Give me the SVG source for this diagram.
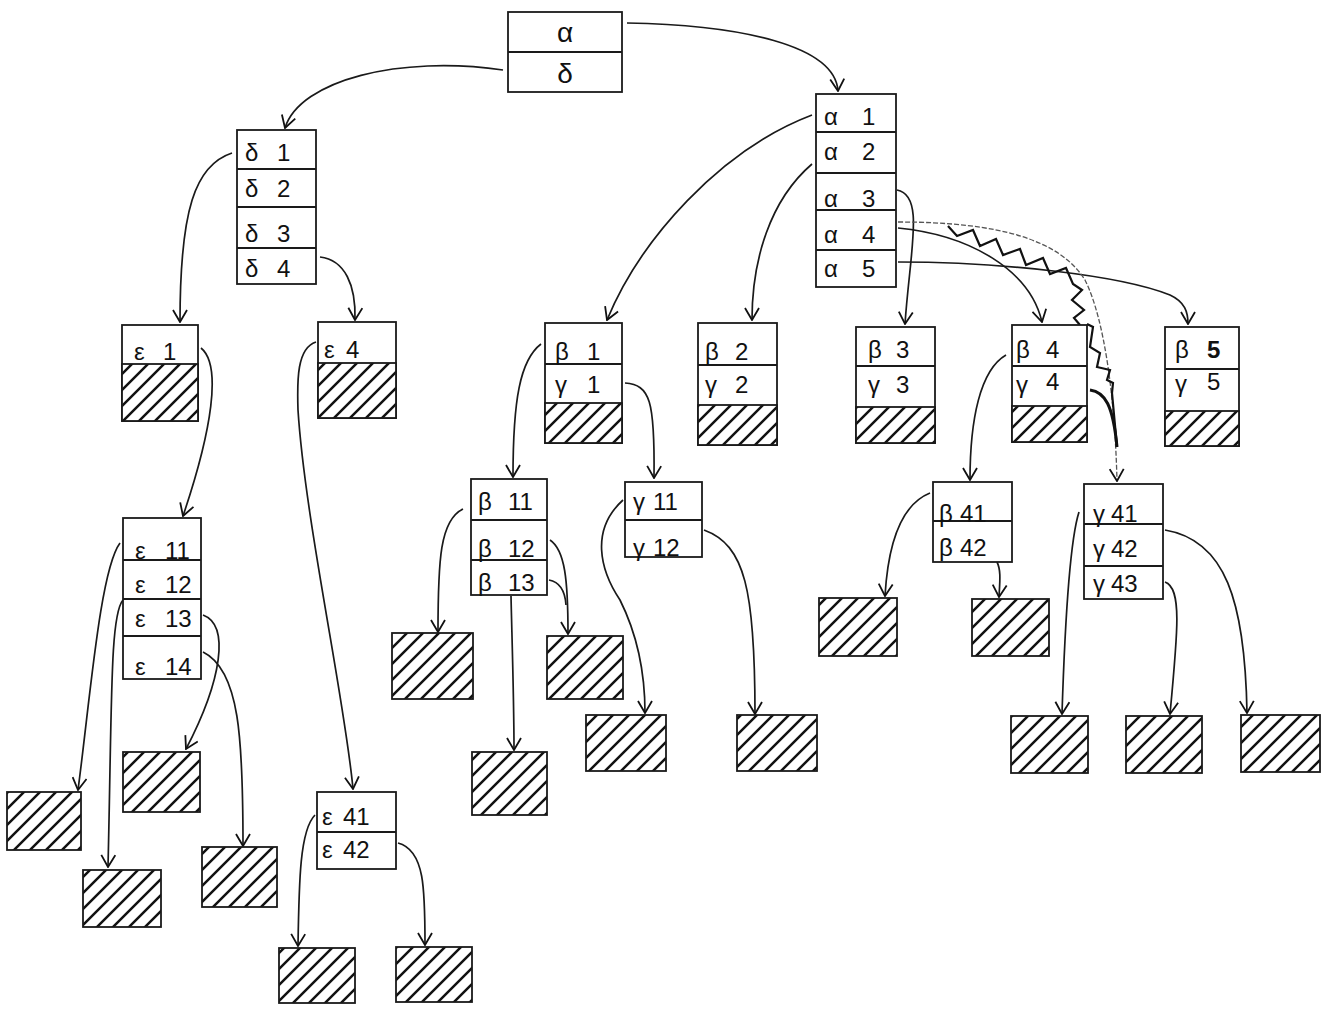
<svg xmlns="http://www.w3.org/2000/svg" width="1324" height="1009" viewBox="0 0 1324 1009">
<defs>
<style>
.box{fill:#fff;stroke:#1a1a1a;stroke-width:1.8}
.h{fill:url(#hatch);stroke:#1a1a1a;stroke-width:1.8}
.dv{stroke:#1a1a1a;stroke-width:1.8}
.lbl{font-family:"Liberation Sans","DejaVu Sans",sans-serif;font-size:24px;fill:#111}
.big{font-size:28px}
.c{fill:none;stroke:#1a1a1a;stroke-width:1.7;marker-end:url(#arr)}
.cf{fill:none;stroke:#555;stroke-width:1.3;stroke-dasharray:5 2;marker-end:url(#arr)}
.zz{fill:none;stroke:#111;stroke-width:2.2;stroke-linejoin:miter}
</style>
<pattern id="hatch" patternUnits="userSpaceOnUse" width="16" height="16">
<rect width="16" height="16" fill="#fff"/>
<path d="M-2,2 L2,-2 M0,16 L16,0 M14,18 L18,14" stroke="#111" stroke-width="2.5"/>
</pattern>
<marker id="arr" viewBox="0 0 14 16" refX="13" refY="8" markerWidth="14" markerHeight="16" orient="auto" markerUnits="userSpaceOnUse">
<path d="M1,1 L13,8 L1,15" fill="none" stroke="#111" stroke-width="1.8"/>
</marker>
</defs>
<rect width="1324" height="1009" fill="#fff"/>

<g id="connectors">
<path class="c" d="M627,23 C740,25 835,45 838,91"/>
<path class="c" d="M503,70 C400,55 300,80 285,128"/>
<path class="c" d="M812,115 C720,150 640,240 607,320"/>
<path class="c" d="M812,164 C770,200 752,260 752,320"/>
<path class="c" d="M897,190 C925,195 910,250 905,324"/>
<path class="c" d="M898,228 C970,235 1030,270 1042,322"/>
<path class="c" d="M898,262 C1000,262 1120,275 1170,295 C1185,302 1188,312 1188,324"/>
<path class="cf" d="M898,222 C1000,222 1060,240 1085,280 C1105,320 1115,400 1117,481"/>
<polyline class="zz" points="948,226 957,236 973,230 980,246 996,239 1003,255 1020,249 1026,265 1043,258 1050,274 1066,268 1073,284 1082,290 1072,300 1084,310 1074,318 1080,325"/>
<polyline class="zz" points="1087,324 1093,327 1090,347 1100,353 1097,367 1110,370 1107,380 1113,383 1112,393 1117,447"/>
<path fill="none" stroke="#111" stroke-width="3" d="M1090,390 C1105,392 1113,405 1117,447"/>
<path class="c" d="M232,153 C195,165 180,210 180,322"/>
<path class="c" d="M320,257 C345,260 356,285 355,320"/>
<path class="c" d="M201,348 C222,365 212,430 183,516"/>
<path class="c" d="M316,342 C297,348 297,380 298,410 C305,520 345,700 353,789"/>
<path class="c" d="M541,344 C520,360 513,400 513,477"/>
<path class="c" d="M625,383 C650,385 655,400 654,478"/>
<path class="c" d="M1006,355 C980,370 970,420 970,480"/>
<path class="c" d="M120,543 C100,570 90,700 78,790"/>
<path class="c" d="M123,600 C110,615 112,700 108,867"/>
<path class="c" d="M203,615 C230,625 222,680 186,749"/>
<path class="c" d="M203,652 C240,670 243,740 243,846"/>
<path class="c" d="M315,815 C300,830 299,880 298,946"/>
<path class="c" d="M398,843 C425,850 425,890 425,945"/>
<path class="c" d="M463,509 C440,520 438,560 438,632"/>
<path class="c" d="M511,596 C512,640 514,700 514,750"/>
<path class="c" d="M550,540 C565,550 568,580 568,634"/>
<path fill="none" stroke="#1a1a1a" stroke-width="1.7" d="M549,580 C560,582 565,590 566,605"/>
<path class="c" d="M623,500 C590,530 600,570 620,600 C640,640 645,680 645,713"/>
<path class="c" d="M704,530 C745,545 755,590 755,714"/>
<path class="c" d="M930,493 C900,505 888,545 885,596"/>
<path class="c" d="M997,562 C1001,570 1000,580 999,597"/>
<path class="c" d="M1079,512 C1070,540 1065,620 1062,714"/>
<path class="c" d="M1165,530 C1225,540 1245,600 1247,713"/>
<path class="c" d="M1165,582 C1182,588 1178,630 1170,714"/>
</g>

<g id="root">
<rect class="box" x="508" y="12" width="114" height="80"/>
<line class="dv" x1="508" y1="52" x2="622" y2="52"/>
<text class="lbl big" x="565" y="42" text-anchor="middle">α</text>
<text class="lbl big" x="565" y="83" text-anchor="middle">δ</text>
</g>

<g id="alpha">
<rect class="box" x="816" y="94" width="80" height="193"/>
<line class="dv" x1="816" y1="132" x2="896" y2="132"/>
<line class="dv" x1="816" y1="173" x2="896" y2="173"/>
<line class="dv" x1="816" y1="210" x2="896" y2="210"/>
<line class="dv" x1="816" y1="250" x2="896" y2="250"/>
<text class="lbl" x="824" y="125">α<tspan x="862">1</tspan></text>
<text class="lbl" x="824" y="160">α<tspan x="862">2</tspan></text>
<text class="lbl" x="824" y="207">α<tspan x="862">3</tspan></text>
<text class="lbl" x="824" y="243">α<tspan x="862">4</tspan></text>
<text class="lbl" x="824" y="277">α<tspan x="862">5</tspan></text>
</g>

<g id="delta">
<rect class="box" x="237" y="130" width="79" height="154"/>
<line class="dv" x1="237" y1="169" x2="316" y2="169"/>
<line class="dv" x1="237" y1="207" x2="316" y2="207"/>
<line class="dv" x1="237" y1="248" x2="316" y2="248"/>
<text class="lbl" x="245" y="161">δ<tspan x="277">1</tspan></text>
<text class="lbl" x="245" y="197">δ<tspan x="277">2</tspan></text>
<text class="lbl" x="245" y="242">δ<tspan x="277">3</tspan></text>
<text class="lbl" x="245" y="277">δ<tspan x="277">4</tspan></text>
</g>

<g id="eps1">
<rect class="box" x="122" y="325" width="76" height="96"/>
<rect class="h" x="122" y="364" width="76" height="57"/>
<text class="lbl" x="134" y="360">ε<tspan x="163">1</tspan></text>
</g>

<g id="eps4">
<rect class="box" x="318" y="322" width="78" height="96"/>
<rect class="h" x="318" y="363" width="78" height="55"/>
<text class="lbl" x="324" y="358">ε<tspan x="346">4</tspan></text>
</g>

<g id="beta1">
<rect class="box" x="545" y="323" width="77" height="120"/>
<line class="dv" x1="545" y1="364" x2="622" y2="364"/>
<rect class="h" x="545" y="403" width="77" height="40"/>
<text class="lbl" x="555" y="360">β<tspan x="587">1</tspan></text>
<text class="lbl" x="555" y="393">γ<tspan x="587">1</tspan></text>
</g>

<g id="beta2">
<rect class="box" x="698" y="323" width="79" height="122"/>
<line class="dv" x1="698" y1="365" x2="777" y2="365"/>
<rect class="h" x="698" y="405" width="79" height="40"/>
<text class="lbl" x="705" y="360">β<tspan x="735">2</tspan></text>
<text class="lbl" x="705" y="393">γ<tspan x="735">2</tspan></text>
</g>

<g id="beta3">
<rect class="box" x="856" y="327" width="79" height="116"/>
<line class="dv" x1="856" y1="366" x2="935" y2="366"/>
<rect class="h" x="856" y="407" width="79" height="36"/>
<text class="lbl" x="868" y="358">β<tspan x="896">3</tspan></text>
<text class="lbl" x="868" y="393">γ<tspan x="896">3</tspan></text>
</g>

<g id="beta4">
<rect class="box" x="1012" y="325" width="75" height="117"/>
<line class="dv" x1="1012" y1="366" x2="1087" y2="366"/>
<rect class="h" x="1012" y="406" width="75" height="36"/>
<text class="lbl" x="1016" y="358">β<tspan x="1046">4</tspan></text>
<text class="lbl" x="1016" y="393">γ<tspan x="1046" y="390">4</tspan></text>
</g>

<g id="beta5">
<rect class="box" x="1165" y="327" width="74" height="119"/>
<line class="dv" x1="1165" y1="369" x2="1239" y2="369"/>
<rect class="h" x="1165" y="411" width="74" height="35"/>
<text class="lbl" x="1175" y="358">β<tspan x="1207" font-weight="bold">5</tspan></text>
<text class="lbl" x="1175" y="392">γ<tspan x="1207" y="390">5</tspan></text>
</g>

<g id="eps11">
<rect class="box" x="123" y="518" width="78" height="161"/>
<line class="dv" x1="123" y1="560" x2="201" y2="560"/>
<line class="dv" x1="123" y1="599" x2="201" y2="599"/>
<line class="dv" x1="123" y1="636" x2="201" y2="636"/>
<text class="lbl" x="135" y="559">ε<tspan x="165">11</tspan></text>
<text class="lbl" x="135" y="593">ε<tspan x="165">12</tspan></text>
<text class="lbl" x="135" y="627">ε<tspan x="165">13</tspan></text>
<text class="lbl" x="135" y="675">ε<tspan x="165">14</tspan></text>
</g>

<g id="eps41">
<rect class="box" x="317" y="792" width="79" height="77"/>
<line class="dv" x1="317" y1="832" x2="396" y2="832"/>
<text class="lbl" x="322" y="825">ε<tspan x="343">41</tspan></text>
<text class="lbl" x="322" y="858">ε<tspan x="343">42</tspan></text>
</g>

<g id="beta11">
<rect class="box" x="471" y="479" width="76" height="116"/>
<line class="dv" x1="471" y1="520" x2="547" y2="520"/>
<line class="dv" x1="471" y1="560" x2="547" y2="560"/>
<text class="lbl" x="478" y="510">β<tspan x="508">11</tspan></text>
<text class="lbl" x="478" y="557">β<tspan x="508">12</tspan></text>
<text class="lbl" x="478" y="591">β<tspan x="508">13</tspan></text>
</g>

<g id="gamma11">
<rect class="box" x="625" y="482" width="77" height="75"/>
<line class="dv" x1="625" y1="520" x2="702" y2="520"/>
<text class="lbl" x="633" y="510">γ<tspan x="653">11</tspan></text>
<text class="lbl" x="633" y="556">γ<tspan x="653">12</tspan></text>
</g>

<g id="beta41">
<rect class="box" x="933" y="482" width="79" height="80"/>
<line class="dv" x1="933" y1="521" x2="1012" y2="521"/>
<text class="lbl" x="939" y="522">β<tspan x="960">41</tspan></text>
<text class="lbl" x="939" y="556">β<tspan x="960">42</tspan></text>
</g>

<g id="gamma41">
<rect class="box" x="1084" y="484" width="79" height="115"/>
<line class="dv" x1="1084" y1="524" x2="1163" y2="524"/>
<line class="dv" x1="1084" y1="566" x2="1163" y2="566"/>
<text class="lbl" x="1093" y="522">γ<tspan x="1111">41</tspan></text>
<text class="lbl" x="1093" y="557">γ<tspan x="1111">42</tspan></text>
<text class="lbl" x="1093" y="592">γ<tspan x="1111">43</tspan></text>
</g>

<g id="leaf-eps11"><rect class="h" x="7" y="792" width="74" height="58"/></g>
<g id="leaf-eps12"><rect class="h" x="83" y="870" width="78" height="57"/></g>
<g id="leaf-eps13"><rect class="h" x="123" y="752" width="77" height="60"/></g>
<g id="leaf-eps14"><rect class="h" x="202" y="847" width="75" height="60"/></g>
<g id="leaf-eps41"><rect class="h" x="279" y="948" width="76" height="55"/></g>
<g id="leaf-eps42"><rect class="h" x="396" y="947" width="76" height="55"/></g>
<g id="leaf-beta11"><rect class="h" x="392" y="633" width="81" height="66"/></g>
<g id="leaf-beta12"><rect class="h" x="547" y="636" width="76" height="63"/></g>
<g id="leaf-beta13"><rect class="h" x="472" y="752" width="75" height="63"/></g>
<g id="leaf-gamma11"><rect class="h" x="586" y="715" width="80" height="56"/></g>
<g id="leaf-gamma12"><rect class="h" x="737" y="715" width="80" height="56"/></g>
<g id="leaf-beta41"><rect class="h" x="819" y="598" width="78" height="58"/></g>
<g id="leaf-beta42"><rect class="h" x="972" y="599" width="77" height="57"/></g>
<g id="leaf-gamma41"><rect class="h" x="1011" y="716" width="77" height="57"/></g>
<g id="leaf-gamma43"><rect class="h" x="1126" y="716" width="76" height="57"/></g>
<g id="leaf-gamma42"><rect class="h" x="1241" y="715" width="79" height="57"/></g>
</svg>
